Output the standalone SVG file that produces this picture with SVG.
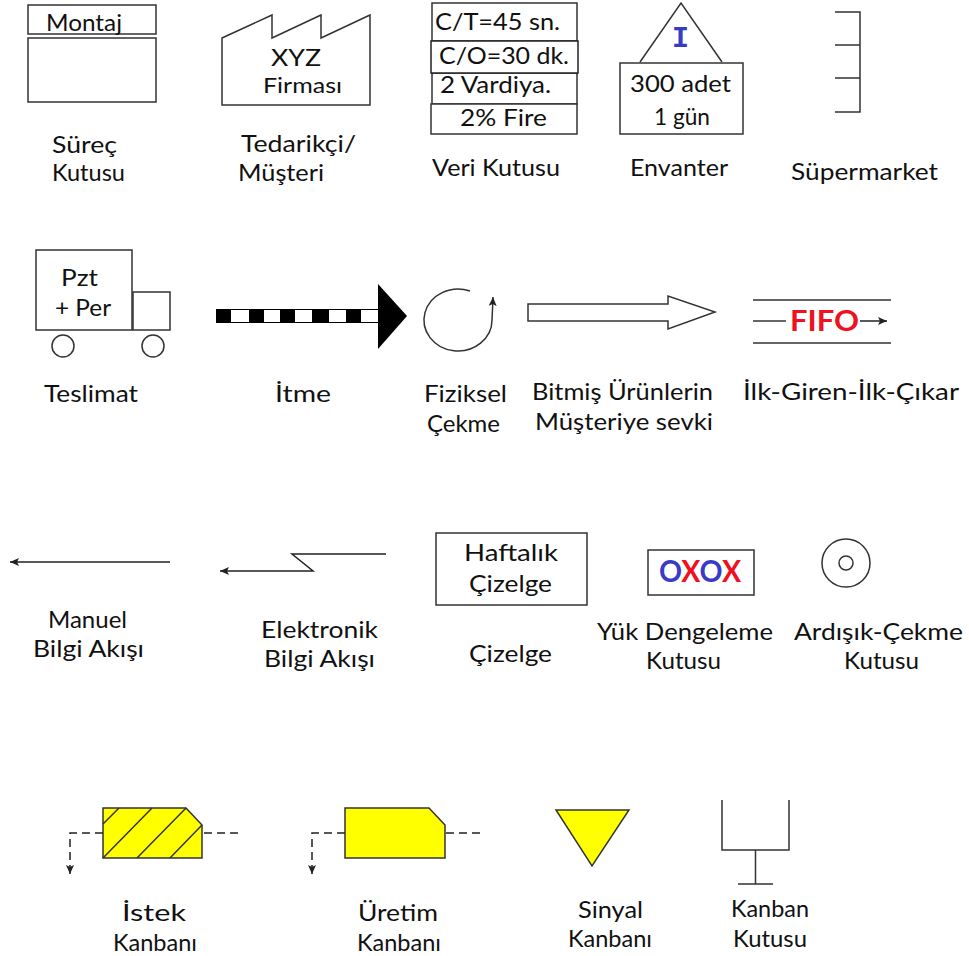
<svg xmlns="http://www.w3.org/2000/svg" width="969" height="956" viewBox="0 0 969 956">
<style>
text{font-family:"Lato","Open Sans",sans-serif;font-size:24px;fill:#111}
.s{fill:#fff;stroke:#333;stroke-width:1.5}
.n{fill:none;stroke:#333;stroke-width:1.5}
.k{fill:none;stroke:#222;stroke-width:1.5}
.d{fill:none;stroke:#222;stroke-width:1.5;stroke-dasharray:8 5}
.y{fill:#ffff00;stroke:#333;stroke-width:1.5}
.b{fill:#3a3ac8;font-weight:700}
.r{fill:#f01020;font-weight:700}
</style>
<defs>
<marker id="a" markerUnits="userSpaceOnUse" markerWidth="10" markerHeight="10" refX="9" refY="5" orient="auto"><path d="M0 1 L9 5 L0 9 L2 5 Z" fill="#222"/></marker>
</defs>
<rect width="969" height="956" fill="#fff"/>

<g id="surec-kutusu">
<rect class="s" x="28" y="5" width="128" height="29"/><rect class="s" x="28" y="38" width="128" height="64"/>
<text x="46" y="31" textLength="76" lengthAdjust="spacingAndGlyphs">Montaj</text>
<text x="52" y="153" textLength="65" lengthAdjust="spacingAndGlyphs">Süreç</text>
<text x="52" y="181" textLength="73" lengthAdjust="spacingAndGlyphs">Kutusu</text>
</g>
<g id="tedarikci">
<path class="s" d="M222 38 L272 15 V38 L321 15 V38 L370 15 V105 H222 Z"/>
<text x="271" y="66" textLength="50" lengthAdjust="spacingAndGlyphs">XYZ</text>
<text x="263" y="93" textLength="79" lengthAdjust="spacingAndGlyphs" style="font-size:22px">Firması</text>
<text x="241" y="152" textLength="115" lengthAdjust="spacingAndGlyphs">Tedarikçi/</text>
<text x="238" y="181" textLength="86" lengthAdjust="spacingAndGlyphs">Müşteri</text>
</g>
<g id="veri-kutusu">
<rect class="s" x="432" y="3" width="145" height="38"/>
<rect class="s" x="432" y="73" width="145" height="31"/>
<rect class="s" x="431" y="104" width="146" height="30"/>
<rect class="s" x="431" y="41" width="147" height="32" style="stroke:#222"/>
<text x="435" y="30" textLength="125" lengthAdjust="spacingAndGlyphs">C/T=45 sn.</text>
<text x="439" y="64" textLength="130" lengthAdjust="spacingAndGlyphs">C/O=30 dk.</text>
<text x="440" y="93" textLength="111" lengthAdjust="spacingAndGlyphs">2 Vardiya.</text>
<text x="460" y="126" textLength="87" lengthAdjust="spacingAndGlyphs">2% Fire</text>
<text x="432" y="176" textLength="128" lengthAdjust="spacingAndGlyphs">Veri Kutusu</text>
</g>
<g id="envanter">
<path class="n" d="M640 62 L681 3 L722 62"/>
<rect class="s" x="620" y="63" width="123" height="71"/>
<text class="b" x="672" y="47" textLength="17" lengthAdjust="spacingAndGlyphs" style="font-family:'Liberation Mono',monospace;font-size:30px">I</text>
<text x="630" y="92" textLength="101" lengthAdjust="spacingAndGlyphs">300 adet</text>
<text x="654" y="125" textLength="56" lengthAdjust="spacingAndGlyphs">1 gün</text>
<text x="630" y="176" textLength="98" lengthAdjust="spacingAndGlyphs">Envanter</text>
</g>
<g id="supermarket">
<path class="n" d="M835 12 H860 V112 H835 M835 45 H860 M835 78 H860"/>
<text x="791" y="180" textLength="147" lengthAdjust="spacingAndGlyphs">Süpermarket</text>
</g>
<g id="teslimat">
<rect class="s" x="36" y="250" width="96" height="80"/><rect class="s" x="133" y="292" width="37" height="38"/>
<circle class="s" cx="63" cy="346" r="11"/><circle class="s" cx="153" cy="346" r="11"/>
<text x="61" y="286" textLength="37" lengthAdjust="spacingAndGlyphs">Pzt</text>
<text x="55" y="316" textLength="56" lengthAdjust="spacingAndGlyphs">+ Per</text>
<text x="44" y="402" textLength="94" lengthAdjust="spacingAndGlyphs">Teslimat</text>
</g>
<g id="itme">
<rect x="216" y="309" width="162" height="14" fill="#000"/>
<path fill="#fff" d="M231 310 H249 V322 H231 Z M264 310 H280 V322 H264 Z M295 310 H312 V322 H295 Z M329 310 H346 V322 H329 Z M361 310 H378 V322 H361 Z"/>
<path fill="#000" d="M378 284 L407 316 L378 349 Z"/>
<text x="275" y="402" textLength="56" lengthAdjust="spacingAndGlyphs">İtme</text>
</g>
<g id="fiziksel-cekme">
<path class="n" d="M470 291 A34 31 0 1 0 492 320 Q492.500 310 493 297" marker-end="url(#a)"/>
<text x="424" y="402" textLength="83" lengthAdjust="spacingAndGlyphs">Fiziksel</text>
<text x="427" y="432" textLength="73" lengthAdjust="spacingAndGlyphs">Çekme</text>
</g>
<g id="sevk">
<path class="s" d="M528 304 H668 V296 L715 312 L668 329 V321 H528 Z"/>
<text x="532" y="400" textLength="181" lengthAdjust="spacingAndGlyphs">Bitmiş Ürünlerin</text>
<text x="535" y="430" textLength="178" lengthAdjust="spacingAndGlyphs">Müşteriye sevki</text>
</g>
<g id="fifo">
<path class="n" d="M753 300 H891 M753 343 H891"/>
<text class="r" x="790" y="331" textLength="69" lengthAdjust="spacingAndGlyphs" style="font-size:29px">FIFO</text>
<text x="743" y="400" textLength="216" lengthAdjust="spacingAndGlyphs">İlk-Giren-İlk-Çıkar</text>
</g>
<g id="manuel-bilgi">
<text x="48" y="628" textLength="79" lengthAdjust="spacingAndGlyphs">Manuel</text>
<text x="33" y="657" textLength="111" lengthAdjust="spacingAndGlyphs">Bilgi Akışı</text>
</g>
<g id="elektronik-bilgi">
<text x="261" y="638" textLength="117" lengthAdjust="spacingAndGlyphs">Elektronik</text>
<text x="264" y="667" textLength="111" lengthAdjust="spacingAndGlyphs">Bilgi Akışı</text>
</g>
<g id="cizelge">
<rect class="s" x="436" y="533" width="151" height="72"/>
<text x="464" y="561" textLength="94" lengthAdjust="spacingAndGlyphs">Haftalık</text>
<text x="469" y="592" textLength="83" lengthAdjust="spacingAndGlyphs">Çizelge</text>
<text x="469" y="662" textLength="83" lengthAdjust="spacingAndGlyphs">Çizelge</text>
</g>
<g id="yuk-dengeleme">
<rect class="s" x="648" y="550" width="106" height="45"/>
<text x="659" y="582" textLength="82" lengthAdjust="spacingAndGlyphs" style="font-size:30px;font-weight:700"><tspan class="b">O</tspan><tspan class="r">X</tspan><tspan class="b">O</tspan><tspan class="r">X</tspan></text>
<text x="597" y="640" textLength="176" lengthAdjust="spacingAndGlyphs">Yük Dengeleme</text>
<text x="646" y="669" textLength="75" lengthAdjust="spacingAndGlyphs">Kutusu</text>
</g>
<g id="ardisik-cekme">
<circle class="s" cx="846" cy="563" r="24"/><circle class="s" cx="846" cy="563" r="7"/>
<text x="794" y="640" textLength="169" lengthAdjust="spacingAndGlyphs">Ardışık-Çekme</text>
<text x="844" y="669" textLength="75" lengthAdjust="spacingAndGlyphs">Kutusu</text>
</g>
<g id="istek-kanbani">
<path class="y" d="M103 808 H186 L202 825 V858 H103 Z"/>
<path class="n" d="M103 824 L119 808 M103 858 L152 808 M137 858 L186 808 M170 858 L202 825"/>
<text x="122" y="921" textLength="64" lengthAdjust="spacingAndGlyphs">İstek</text>
<text x="113" y="951" textLength="84" lengthAdjust="spacingAndGlyphs">Kanbanı</text>
</g>
<g id="uretim-kanbani">
<path class="y" d="M345 808 H429 L445 825 V858 H345 Z"/>
<text x="358" y="921" textLength="80" lengthAdjust="spacingAndGlyphs">Üretim</text>
<text x="357" y="951" textLength="84" lengthAdjust="spacingAndGlyphs">Kanbanı</text>
</g>
<g id="sinyal-kanbani">
<path class="y" d="M556 810 H629 L592 866 Z"/>
<text x="578" y="918" textLength="65" lengthAdjust="spacingAndGlyphs">Sinyal</text>
<text x="568" y="947" textLength="84" lengthAdjust="spacingAndGlyphs">Kanbanı</text>
</g>
<g id="kanban-kutusu">
<path class="n" d="M722 800 V850 H789 V800 M755.500 850 V884 M738 884 H773"/>
<text x="731" y="917" textLength="78" lengthAdjust="spacingAndGlyphs">Kanban</text>
<text x="733" y="947" textLength="74" lengthAdjust="spacingAndGlyphs">Kutusu</text>
</g>
<g id="connectors">
<path class="k" d="M860 321 H887" marker-end="url(#a)"/>
<path class="n" d="M753 321 H786"/>
<path class="k" d="M170 562 H10" marker-end="url(#a)"/>
<path class="k" d="M386 554 H292 L313 571 H220" marker-end="url(#a)"/>
<path class="d" d="M103 833 H70 V866"/><path class="k" d="M70 866 V874" marker-end="url(#a)"/>
<path class="d" d="M238 833 H202"/>
<path class="d" d="M345 833 H312 V866"/><path class="k" d="M312 866 V874" marker-end="url(#a)"/>
<path class="d" d="M480 833 H445"/>
</g>
</svg>
